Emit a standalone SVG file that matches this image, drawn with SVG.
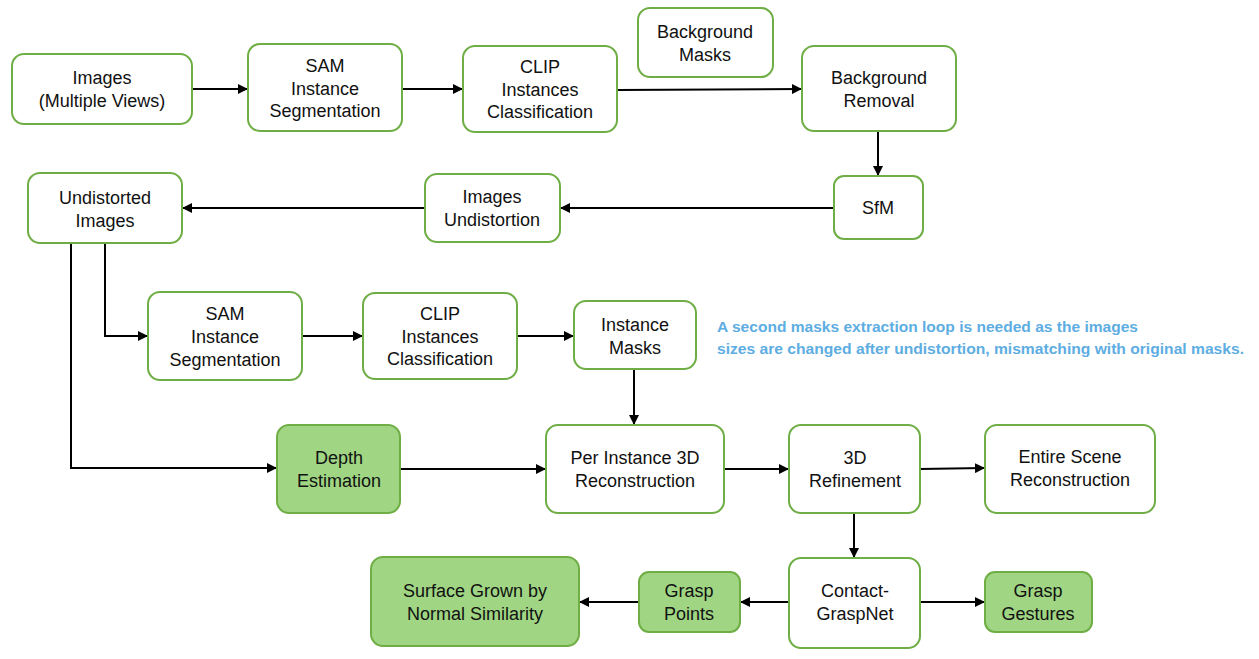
<svg xmlns="http://www.w3.org/2000/svg" width="1259" height="659" viewBox="0 0 1259 659">
<defs>
<marker id="ah" viewBox="0 0 10 10" refX="9" refY="5" markerWidth="10" markerHeight="10" markerUnits="userSpaceOnUse" orient="auto">
<path d="M0,0 L10,5 L0,10 z" fill="#000"/>
</marker>
<style>
.n{fill:#fff;stroke:#6FAE45;stroke-width:2}
.g{fill:#A0D683;stroke:#6FAE45;stroke-width:2}
.t{font-family:"Liberation Sans",Arial,sans-serif;font-size:18px;fill:#111;text-anchor:middle}
.c{fill:none;stroke:#000;stroke-width:2;marker-end:url(#ah)}
.note{font-family:"Liberation Sans",Arial,sans-serif;font-size:15px;font-weight:bold;fill:#5DADE2}
</style>
</defs>
<rect width="1259" height="659" fill="#fff"/>
<g id="connectors">
<path class="c" d="M192,89 H247"/>
<path class="c" d="M402,89 H462"/>
<path class="c" d="M617,90 L801,89"/>
<path class="c" d="M878,131 V175"/>
<path class="c" d="M834,208 H561"/>
<path class="c" d="M425,208 H183"/>
<path class="c" d="M105,243 V336 H147"/>
<path class="c" d="M71,243 V468 H276"/>
<path class="c" d="M302,336 H362"/>
<path class="c" d="M517,336 H573"/>
<path class="c" d="M634,369 V424"/>
<path class="c" d="M400,469 H545"/>
<path class="c" d="M724,469 H788"/>
<path class="c" d="M920,469 L984,468"/>
<path class="c" d="M854,513 V557"/>
<path class="c" d="M789,602 H741"/>
<path class="c" d="M639,602 H580"/>
<path class="c" d="M920,602 H984"/>
</g>
<g id="images"><rect class="n" x="12" y="54" width="180" height="70" rx="12"/><text class="t"><tspan x="102" y="84">Images</tspan><tspan x="102" y="107">(Multiple Views)</tspan></text></g>
<g id="sam1"><rect class="n" x="248" y="44" width="154" height="87" rx="12"/><text class="t"><tspan x="325" y="72">SAM</tspan><tspan x="325" y="95">Instance</tspan><tspan x="325" y="117">Segmentation</tspan></text></g>
<g id="clip1"><rect class="n" x="463" y="46" width="154" height="86" rx="12"/><text class="t"><tspan x="540" y="73">CLIP</tspan><tspan x="540" y="96">Instances</tspan><tspan x="540" y="118">Classification</tspan></text></g>
<g id="bgmasks"><rect class="n" x="638" y="8" width="135" height="69" rx="12"/><text class="t"><tspan x="705" y="38">Background</tspan><tspan x="705" y="61">Masks</tspan></text></g>
<g id="bgremoval"><rect class="n" x="802" y="46" width="154" height="85" rx="12"/><text class="t"><tspan x="879" y="84">Background</tspan><tspan x="879" y="107">Removal</tspan></text></g>
<g id="sfm"><rect class="n" x="834" y="176" width="89" height="63" rx="10"/><text class="t"><tspan x="878" y="214">SfM</tspan></text></g>
<g id="undistortion"><rect class="n" x="425" y="174" width="135" height="68" rx="12"/><text class="t"><tspan x="492" y="203">Images</tspan><tspan x="492" y="226">Undistortion</tspan></text></g>
<g id="undistorted"><rect class="n" x="28" y="173" width="154" height="70" rx="12"/><text class="t"><tspan x="105" y="204">Undistorted</tspan><tspan x="105" y="227">Images</tspan></text></g>
<g id="sam2"><rect class="n" x="148" y="292" width="154" height="88" rx="12"/><text class="t"><tspan x="225" y="320">SAM</tspan><tspan x="225" y="343">Instance</tspan><tspan x="225" y="366">Segmentation</tspan></text></g>
<g id="clip2"><rect class="n" x="363" y="293" width="154" height="86" rx="12"/><text class="t"><tspan x="440" y="320">CLIP</tspan><tspan x="440" y="343">Instances</tspan><tspan x="440" y="365">Classification</tspan></text></g>
<g id="instmasks"><rect class="n" x="574" y="301" width="122" height="68" rx="12"/><text class="t"><tspan x="635" y="331">Instance</tspan><tspan x="635" y="354">Masks</tspan></text></g>
<g id="depth"><rect class="g" x="277" y="425" width="123" height="88" rx="12"/><text class="t"><tspan x="339" y="464">Depth</tspan><tspan x="339" y="487">Estimation</tspan></text></g>
<g id="perinst"><rect class="n" x="546" y="425" width="178" height="88" rx="12"/><text class="t"><tspan x="635" y="464">Per Instance 3D</tspan><tspan x="635" y="487">Reconstruction</tspan></text></g>
<g id="refine"><rect class="n" x="789" y="425" width="131" height="88" rx="12"/><text class="t"><tspan x="855" y="464">3D</tspan><tspan x="855" y="487">Refinement</tspan></text></g>
<g id="entire"><rect class="n" x="985" y="425" width="170" height="88" rx="12"/><text class="t"><tspan x="1070" y="463">Entire Scene</tspan><tspan x="1070" y="486">Reconstruction</tspan></text></g>
<g id="contact"><rect class="n" x="789" y="558" width="131" height="90" rx="12"/><text class="t"><tspan x="855" y="597">Contact-</tspan><tspan x="855" y="620">GraspNet</tspan></text></g>
<g id="grasppoints"><rect class="g" x="639" y="572" width="101" height="60" rx="10"/><text class="t"><tspan x="689" y="597">Grasp</tspan><tspan x="689" y="620">Points</tspan></text></g>
<g id="surface"><rect class="g" x="371" y="557" width="208" height="89" rx="12"/><text class="t"><tspan x="475" y="597">Surface Grown by</tspan><tspan x="475" y="620">Normal Similarity</tspan></text></g>
<g id="gestures"><rect class="g" x="985" y="572" width="107" height="60" rx="10"/><text class="t"><tspan x="1038" y="597">Grasp</tspan><tspan x="1038" y="620">Gestures</tspan></text></g>
<g id="note"><text class="note"><tspan x="717" y="332" textLength="421" lengthAdjust="spacingAndGlyphs">A second masks extraction loop is needed as the images</tspan><tspan x="717" y="354" textLength="527" lengthAdjust="spacingAndGlyphs">sizes are changed after undistortion, mismatching with original masks.</tspan></text></g>
</svg>
